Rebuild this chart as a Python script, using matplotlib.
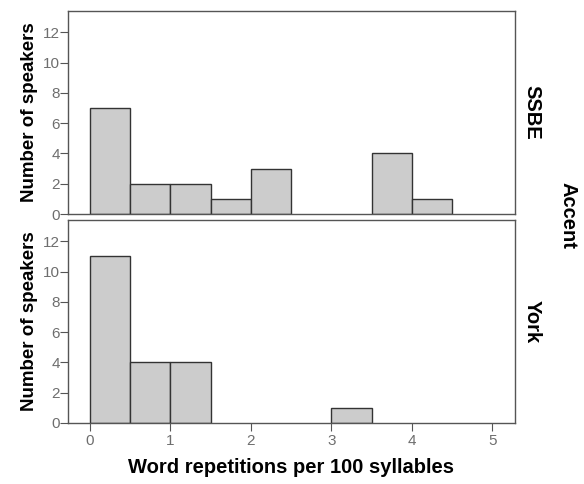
import matplotlib
matplotlib.use("Agg")
import matplotlib.pyplot as plt
import numpy as np

bin_edges = [0, 0.5, 1, 1.5, 2, 2.5, 3, 3.5, 4, 4.5, 5]
ssbe_counts = [7, 2, 2, 1, 3, 0, 0, 4, 1, 0]
york_counts = [11, 4, 4, 0, 0, 0, 1, 0, 0, 0]
panels = ["SSBE", "York"]
x_ticks = [0, 1, 2, 3, 4, 5]
y_ticks = [0, 2, 4, 6, 8, 10, 12]

plt.rcParams['font.family'] = ['Liberation Sans', 'DejaVu Sans']

W, H = 584, 484
fig = plt.figure(figsize=(W/100, H/100), dpi=100)

def ax_rect(x0, y0, x1, y1):
    return [x0/W, 1 - y1/H, (x1-x0)/W, (y1-y0)/H]

ax1 = fig.add_axes(ax_rect(68, 11, 515, 214))
ax2 = fig.add_axes(ax_rect(68, 220, 515, 423))

spine_col = "#555555"
tick_col = "#6e6e6e"
for ax, counts, name in [(ax1, ssbe_counts, panels[0]), (ax2, york_counts, panels[1])]:
    left = np.array(bin_edges[:-1])
    widths = np.diff(bin_edges)
    h = np.array(counts)
    mask = h > 0
    ax.bar(left[mask], h[mask], width=widths[mask], align='edge',
           color="#cccccc", edgecolor="#333333", linewidth=1.0)
    ax.set_xlim(-0.27, 5.28)
    ax.set_ylim(0, 13.4)
    ax.set_yticks(y_ticks)
    ax.tick_params(axis='y', direction='out', length=6, color=spine_col,
                   labelcolor=tick_col, labelsize=11, pad=0)
    for s in ax.spines.values():
        s.set_color(spine_col)
        s.set_linewidth(1.0)
    ax.set_ylabel("Number of speakers", fontsize=13.5, fontweight='bold', labelpad=3)
    ax.text(532/W, 0.5, name, transform=matplotlib.transforms.blended_transform_factory(fig.transFigure, ax.transAxes),
            rotation=-90, ha='center', va='center', fontsize=14.5, fontweight='bold')

ax1.tick_params(axis='x', bottom=False, labelbottom=False)
ax2.set_xticks(x_ticks)
ax2.tick_params(axis='x', direction='out', length=6, color=spine_col,
                labelcolor=tick_col, labelsize=11, pad=2)
ax2.set_xlabel("Word repetitions per 100 syllables", fontsize=14.5,
               fontweight='bold', labelpad=7)

fig.text(568/W, 1 - 215/H, "Accent", rotation=-90, ha='center', va='center',
         fontsize=14.5, fontweight='bold')

fig.savefig("out.png", dpi=100, facecolor='white')
